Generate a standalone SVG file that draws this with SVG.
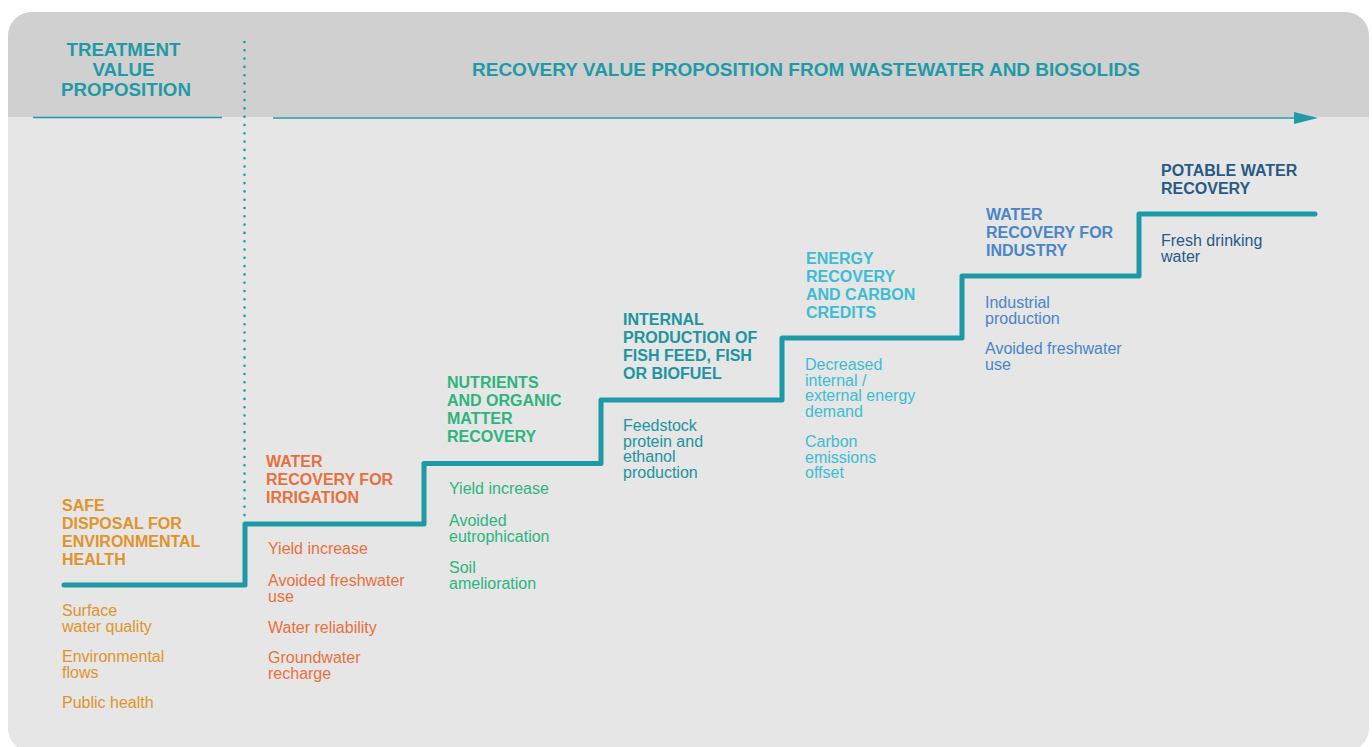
<svg xmlns="http://www.w3.org/2000/svg" width="1372" height="747" viewBox="0 0 1372 747">
  <style>
    .hd { font-family: "Liberation Sans", Arial, sans-serif; font-weight: bold; font-size: 18.7px; fill: #1f9aa6; }
    .hd-main { font-size: 19px; }
    .ttl { font-family: "Liberation Sans", Arial, sans-serif; font-weight: bold; font-size: 16px; }
    .txt { font-family: "Liberation Sans", Arial, sans-serif; font-size: 16px; }
    .c1 { fill: #e0942b; }
    .c2 { fill: #e8703f; }
    .c3 { fill: #2db47f; }
    .c4 { fill: #1e94a0; }
    .c5 { fill: #3dbdd1; }
    .c6 { fill: #4a85c6; }
    .c7 { fill: #285a86; }
  </style>
  <defs>
    <clipPath id="panelClip">
      <rect x="8" y="12" width="1361" height="740" rx="24"/>
    </clipPath>
    <marker id="arrowHead" viewBox="0 0 24 12" refX="0" refY="6" markerWidth="24" markerHeight="12" markerUnits="userSpaceOnUse" orient="auto">
      <path d="M0,0 L24,6 L0,12 Z" fill="#1f9aa6"/>
    </marker>
  </defs>

  <rect width="1372" height="747" fill="#ffffff"/>

  <!-- panel background with header band -->
  <g id="panel" clip-path="url(#panelClip)">
    <rect x="8" y="12" width="1361" height="740" fill="#e5e6e5"/>
    <rect x="8" y="12" width="1361" height="105" fill="#cfd0cf"/>
  </g>

  <!-- header -->
  <g id="header">
    <text class="hd" text-anchor="middle">
      <tspan x="126" y="56">TREATMENT</tspan>
      <tspan x="126" y="76">VALUE</tspan>
      <tspan x="126" y="96">PROPOSITION</tspan>
    </text>
    <text class="hd hd-main" x="472" y="76">RECOVERY VALUE PROPOSITION FROM WASTEWATER AND BIOSOLIDS</text>
  </g>

  <!-- connectors: rules, divider and stair line -->
  <g id="connectors" fill="none">
    <line x1="33" y1="117.5" x2="222" y2="117.5" stroke="#1f9aa6" stroke-width="1.5"/>
    <line x1="273" y1="118" x2="1294" y2="118" stroke="#1f9aa6" stroke-width="1.5" marker-end="url(#arrowHead)"/>
    <line x1="244.5" y1="42" x2="244.5" y2="516" stroke="#1f9aa6" stroke-width="2.6" stroke-linecap="round" stroke-dasharray="0 8.3"/>
    <polyline points="64,585 245,585 245,524 424,524 424,463.5 601,463.5 601,400 782,400 782,338 962,338 962,276 1139,276 1139,214 1315,214"
      stroke="#1d9aa5" stroke-width="5" stroke-linecap="round" stroke-linejoin="round"/>
  </g>

  <!-- step 1 -->
  <g id="safe-disposal">
    <text class="ttl c1">
      <tspan x="62" y="511">SAFE</tspan>
      <tspan x="62" y="529">DISPOSAL FOR</tspan>
      <tspan x="62" y="547">ENVIRONMENTAL</tspan>
      <tspan x="62" y="565">HEALTH</tspan>
    </text>
    <text class="txt c1">
      <tspan x="62" y="616">Surface</tspan>
      <tspan x="62" y="631.5">water quality</tspan>
      <tspan x="62" y="662">Environmental</tspan>
      <tspan x="62" y="677.5">flows</tspan>
      <tspan x="62" y="708">Public health</tspan>
    </text>
  </g>

  <!-- step 2 -->
  <g id="irrigation">
    <text class="ttl c2">
      <tspan x="266" y="467">WATER</tspan>
      <tspan x="266" y="485">RECOVERY FOR</tspan>
      <tspan x="266" y="503">IRRIGATION</tspan>
    </text>
    <text class="txt c2">
      <tspan x="268" y="554">Yield increase</tspan>
      <tspan x="268" y="586">Avoided freshwater</tspan>
      <tspan x="268" y="601.5">use</tspan>
      <tspan x="268" y="633">Water reliability</tspan>
      <tspan x="268" y="663">Groundwater</tspan>
      <tspan x="268" y="678.5">recharge</tspan>
    </text>
  </g>

  <!-- step 3 -->
  <g id="nutrients">
    <text class="ttl c3">
      <tspan x="447" y="388">NUTRIENTS</tspan>
      <tspan x="447" y="406">AND ORGANIC</tspan>
      <tspan x="447" y="424">MATTER</tspan>
      <tspan x="447" y="442">RECOVERY</tspan>
    </text>
    <text class="txt c3">
      <tspan x="449" y="494">Yield increase</tspan>
      <tspan x="449" y="526">Avoided</tspan>
      <tspan x="449" y="541.5">eutrophication</tspan>
      <tspan x="449" y="573">Soil</tspan>
      <tspan x="449" y="588.5">amelioration</tspan>
    </text>
  </g>

  <!-- step 4 -->
  <g id="fish-feed">
    <text class="ttl c4">
      <tspan x="623" y="325">INTERNAL</tspan>
      <tspan x="623" y="343">PRODUCTION OF</tspan>
      <tspan x="623" y="361">FISH FEED, FISH</tspan>
      <tspan x="623" y="379">OR BIOFUEL</tspan>
    </text>
    <text class="txt c4">
      <tspan x="623" y="431">Feedstock</tspan>
      <tspan x="623" y="446.5">protein and</tspan>
      <tspan x="623" y="462">ethanol</tspan>
      <tspan x="623" y="477.5">production</tspan>
    </text>
  </g>

  <!-- step 5 -->
  <g id="energy">
    <text class="ttl c5">
      <tspan x="806" y="264">ENERGY</tspan>
      <tspan x="806" y="282">RECOVERY</tspan>
      <tspan x="806" y="300">AND CARBON</tspan>
      <tspan x="806" y="318">CREDITS</tspan>
    </text>
    <text class="txt c5">
      <tspan x="805" y="370">Decreased</tspan>
      <tspan x="805" y="385.5">internal /</tspan>
      <tspan x="805" y="401">external energy</tspan>
      <tspan x="805" y="416.5">demand</tspan>
      <tspan x="805" y="447">Carbon</tspan>
      <tspan x="805" y="462.5">emissions</tspan>
      <tspan x="805" y="478">offset</tspan>
    </text>
  </g>

  <!-- step 6 -->
  <g id="industry">
    <text class="ttl c6">
      <tspan x="986" y="220">WATER</tspan>
      <tspan x="986" y="238">RECOVERY FOR</tspan>
      <tspan x="986" y="256">INDUSTRY</tspan>
    </text>
    <text class="txt c6">
      <tspan x="985" y="308">Industrial</tspan>
      <tspan x="985" y="323.5">production</tspan>
      <tspan x="985" y="354">Avoided freshwater</tspan>
      <tspan x="985" y="369.5">use</tspan>
    </text>
  </g>

  <!-- step 7 -->
  <g id="potable">
    <text class="ttl c7">
      <tspan x="1161" y="176">POTABLE WATER</tspan>
      <tspan x="1161" y="194">RECOVERY</tspan>
    </text>
    <text class="txt c7">
      <tspan x="1161" y="246">Fresh drinking</tspan>
      <tspan x="1161" y="261.5">water</tspan>
    </text>
  </g>
</svg>
